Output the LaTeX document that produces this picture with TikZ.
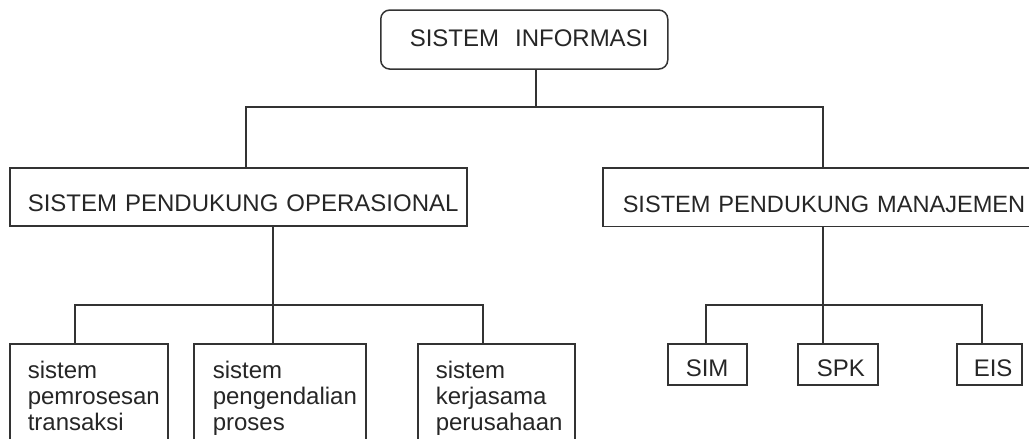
\documentclass[tikz,border=0pt]{standalone}
\usepackage{fontspec}
\setmainfont{Liberation Sans}
\newcommand{\ind}[1]{\hspace*{#1}}
\begin{document}
\begin{tikzpicture}[x=1pt,y=-1pt,
  every node/.style={font=\fontsize{24}{26}\selectfont, text=black!85},
  boxbase/.style={draw=black!80, line width=1.5pt, inner xsep=0pt, align=left, anchor=north west},
  headbox/.style={boxbase, inner ysep=0pt, text depth=0pt},
  leafbox/.style={boxbase, inner ysep=17pt},
  conn/.style={draw=black!80, line width=1.5pt}]
\useasboundingbox (0,0) rectangle (1029,439);
% top
\node[headbox, rounded corners=9pt, text width=287pt, minimum height=59pt, text height=14.4pt] (si) at (380,9.3) {\ind{29pt}SISTEM\ \ INFORMASI};
% second level
\node[headbox, text width=457pt, minimum height=58pt, text height=29.4pt] (spo) at (9,167.3) {\ind{18pt}SISTEM PENDUKUNG OPERASIONAL};
\node[headbox, text width=460pt, minimum height=58.5pt, text height=29.4pt, font=\fontsize{23.6}{26}\selectfont] (spm) at (602,167.3) {\ind{20pt}SISTEM PENDUKUNG MANAJEMEN};
% leaves left
\node[leafbox, text width=158pt] (b1) at (9,343) {\ind{18pt}sistem\\\ind{18pt}pemrosesan\\\ind{18pt}transaksi};
\node[leafbox, text width=172pt] (b2) at (193,343) {\ind{19pt}sistem\\\ind{19pt}pengendalian\\\ind{19pt}proses};
\node[leafbox, text width=157pt] (b3) at (417,343) {\ind{18pt}sistem\\\ind{18pt}kerjasama\\\ind{18pt}perusahaan};
% leaves right
\node[headbox, text width=79pt, minimum height=41pt, text height=25pt] (sim) at (667,343) {\ind{18pt}SIM};
\node[headbox, text width=80pt, minimum height=41pt, text height=25pt] (spk) at (797,343) {\ind{19pt}SPK};
\node[headbox, text width=65pt, minimum height=41pt, text height=25pt] (eis) at (956,343) {\ind{17pt}EIS};
% junctions
\coordinate (ja) at (536,107);
\coordinate (jl) at (246,107);
\coordinate (jr) at (823,107);
\coordinate (ka) at (273,305);
\coordinate (kl) at (75,305);
\coordinate (kr) at (483,305);
\coordinate (ma) at (823,305);
\coordinate (ml) at (706,305);
\coordinate (mr) at (982,305);
% connectors
\draw[conn] (ja |- si.south) -- (ja);
\draw[conn] (jl |- spo.north) -- (jl) -- (jr) -- (jr |- spm.north);
\draw[conn] (ka |- spo.south) -- (ka |- b2.north);
\draw[conn] (kl |- b1.north) -- (kl) -- (kr) -- (kr |- b3.north);
\draw[conn] (ma |- spm.south) -- (ma |- spk.north);
\draw[conn] (ml |- sim.north) -- (ml) -- (mr) -- (mr |- eis.north);
\end{tikzpicture}
\end{document}
